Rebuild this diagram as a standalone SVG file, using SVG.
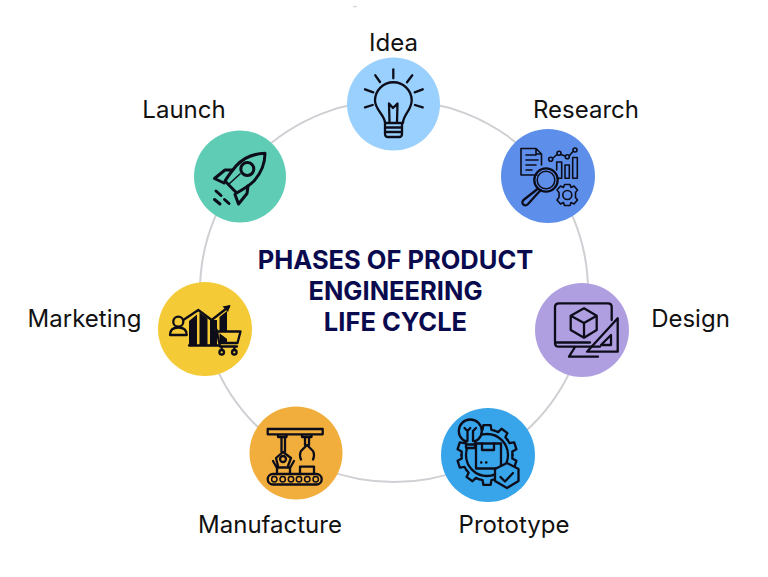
<svg xmlns="http://www.w3.org/2000/svg" width="768" height="577" viewBox="0 0 768 577">
<style>
.lbl{font-family:Inter,"Liberation Sans",sans-serif;font-size:24px;fill:#111;text-anchor:middle}
.ttl{font-family:Inter,"Liberation Sans",sans-serif;font-size:25.500px;font-weight:700;fill:#0a0a4e;text-anchor:middle}
.i{fill:none;stroke:#0d0d1a;stroke-width:2.300;stroke-linecap:round;stroke-linejoin:round}
.s{fill:#0d0d1a}
</style>
<defs><path id="tooth" d="M-7.880-24.250L-4.430-25.110L-3.660-29.780H3.660L4.430-25.110L7.880-24.250"/></defs>
<rect width="768" height="577" fill="#fff"/>
<line x1="353" y1="6.700" x2="357" y2="6.700" stroke="#ccc" stroke-width="1"/>
<g id="connectors"><ellipse cx="394" cy="291" rx="194" ry="191" fill="none" stroke="#cfd0d4" stroke-width="2"/></g>
<g id="title"><text class="ttl" x="395.500" y="268.500">PHASES OF PRODUCT</text><text class="ttl" x="395.500" y="299.500">ENGINEERING</text><text class="ttl" x="395.500" y="330.500">LIFE CYCLE</text></g>
<g id="idea"><circle cx="393.500" cy="104" r="46.500" fill="#99d0fd"/>
<path class="i" d="M393.300 69.300V78.300M375.300 75.300L380 82M412.300 75.300L407 82.300M365 89.300L373.300 92.300M422.700 89.300L414.700 92.300M365 107.300L372.700 105M422.700 107.300L415 105"/>
<path class="i" d="M385 123C385 115 375 110 375 100.600A18.300 18.300 0 0 1 411.700 100.600C411.700 110 403 115 403 123ZM389.500 122L389 103.500L393 108L397.500 103.500L397 122M385 123V134Q385 137 388 137H399Q402 137 402 134V123M385 127.500H402M385 132H402"/>
<text class="lbl" x="393.500" y="51">Idea</text></g>
<g id="research"><circle cx="548" cy="176" r="47" fill="#5d8eea"/>
<path class="i" style="stroke-width:1.600" d="M537 175H521V148.500H536L541.500 154V165M536 148.500V154H541.500M526 155H536M526 160H538M526 165H536M526 170H532"/>
<circle class="i" cx="546" cy="180" r="11.700"/><circle class="i" style="stroke-width:1.500" cx="546" cy="180" r="8.800"/>
<path class="i" d="M538 188.500L535 191L523.500 200Q521 203 524 205Q526 206 528 204L538 193L541 190"/>
<path class="i" style="stroke-width:1.600" d="M556.700 170V162H561.700V178.300H558M565 178.300V165H569.300V178.300ZM572.700 178.300V157.500H577.300V178.300ZM553 158L557 154.500M561 154.500L565 156M569.500 155.500L573 151.500"/>
<g class="i" style="stroke-width:1.600"><circle cx="550.700" cy="159.300" r="2"/><circle cx="559" cy="153.300" r="2"/><circle cx="567.300" cy="156.700" r="2"/><circle cx="575" cy="150" r="2"/><circle cx="567.300" cy="195" r="4.500"/>
<path d="M564.500 184.500H570L571 187.500L574 186L577.500 190L575.500 192.500V197.500L577.500 200L574 204L571 202.500L570 205.500H564.500L563.500 202.500L560.500 204L557 200L559 197.500V192.500L557 190L560.500 186L563.500 187.500Z"/></g>
<text class="lbl" x="586" y="118">Research</text></g>
<g id="design"><circle cx="582" cy="330" r="47" fill="#b09fe0"/>
<path class="i" d="M600 346.700H559Q555 346.700 555 343V307Q555 303.300 559 303.300H608Q611.700 303.300 611.700 307V320M555 342.500H590M575 347L569 356.700H598"/>
<path class="i" d="M584 308.300L596.700 315.700V330L584 337.700L570.700 330V315.700ZM570.700 315.700L584 323L596.700 315.700M584 323V337.700"/>
<path class="i" d="M617.700 318.300V351.700H587ZM611 335V345H601Z"/>
<text class="lbl" x="690.500" y="327">Design</text></g>
<g id="prototype"><circle cx="488" cy="455" r="47" fill="#38a4ea"/>
<g class="i" transform="translate(487 455)"><use href="#tooth"/><use href="#tooth" transform="rotate(36)"/><use href="#tooth" transform="rotate(72)"/><use href="#tooth" transform="rotate(108)"/><use href="#tooth" transform="rotate(144)"/><use href="#tooth" transform="rotate(180)"/><use href="#tooth" transform="rotate(216)"/><use href="#tooth" transform="rotate(252)"/><use href="#tooth" transform="rotate(288)"/><use href="#tooth" transform="rotate(324)"/><circle r="21"/></g>
<circle cx="470.300" cy="431" r="11.500" class="i" style="fill:#38a4ea"/>
<path class="i" style="fill:#38a4ea" d="M466 441V448H475V441"/>
<path class="i" d="M467 444.500H474M467.500 441V431M473 441V431M464.500 428L467.500 431L470.300 428M476 428L473 431"/>
<path class="i" style="fill:#38a4ea" d="M476 443.500H501V468.500H476Z"/>
<path class="i" d="M482 443.500V450H494V443.500M481 462.500H481.500M486 462.500H486.500"/>
<path class="i" style="fill:#38a4ea" d="M507 463L518.500 469V481L507 488L495 481V469Z"/>
<path class="i" d="M500.500 477L505 481.500L513 473"/>
<text class="lbl" x="514" y="533">Prototype</text></g>
<g id="manufacture"><circle cx="296" cy="453" r="46.500" fill="#f1ae3d"/>
<path class="i" d="M267.700 429H322.700V434.300H267.700ZM278 434.300V437H286.500V434.300M302 434.300V437H311.500V434.300"/>
<path class="i" d="M281.500 438V452M285 438V452M305 438V445M309 438V445"/>
<path class="i" d="M307 445L301 451Q299 455 301 459.500M307 445L313 451Q315 455 313 459.500"/>
<path class="i" d="M283 452L276 458L278 466M283 452L291 458L288 466M273 461L277 468M294 461L290 468"/>
<circle class="i" cx="283" cy="459" r="3"/>
<rect class="i" x="267.700" y="474" width="54" height="10.500" rx="5.200"/>
<g class="i" style="stroke-width:1.500"><circle cx="274.300" cy="479.200" r="2.700"/><circle cx="282.700" cy="479.200" r="2.700"/><circle cx="291" cy="479.200" r="2.700"/><circle cx="299" cy="479.200" r="2.700"/><circle cx="307.300" cy="479.200" r="2.700"/><circle cx="315.700" cy="479.200" r="2.700"/></g>
<path class="i" d="M277 474V467.500H290V474M300 474V466.700H314V474"/>
<text class="lbl" x="270" y="533">Manufacture</text></g>
<g id="marketing"><circle cx="205" cy="329" r="47" fill="#f4ca36"/>
<path class="s" d="M189 321L197 314.500V345H189ZM199.500 312.500L207.500 318V345H199.500ZM210 320L217 320V345H210ZM219.500 317L227 311V345H219.500Z"/>
<path class="i" d="M183.300 320L198.300 310L211.700 320L229 306.500M189 345.500H228"/>
<path class="s" d="M230.500 305L222.500 306.500L228 312Z"/>
<circle class="i" cx="178.300" cy="321.700" r="5"/>
<path class="i" d="M170 335H186.700C186.700 330 184 327.500 178.300 327.500C173 327.500 170 330 170 335Z"/>
<path class="i" style="fill:#f4ca36" d="M212 327.500L216.500 329.500L220 346.500H237M217 331.500H240.500L237.500 343H219.500"/>
<circle class="i" cx="221.700" cy="352.300" r="2.300"/><circle class="i" cx="234.300" cy="352.300" r="2.300"/>
<path class="i" d="M221.700 347V350M234.300 347V350"/>
<text class="lbl" x="84.500" y="327">Marketing</text></g>
<g id="launch"><circle cx="240" cy="176.500" r="46" fill="#5fcdb5"/>
<g class="i" style="stroke-width:3"><path d="M265 153.300C256 153.500 245 156 236 166C232 171 228 176 225 181L236.700 193C242 190 249 186 254 181C262 172 265 162 265 153.300Z"/>
<circle cx="247.300" cy="169" r="6.500"/>
<path d="M232 170L225 170L214.500 178.500L224 183"/>
<path d="M248 186L247 193.500L238.500 204L235 194.500"/>
<path d="M216 191L221 195.500M214.500 199.500L220 204M224.500 199.500L229 203.500"/>
<path d="M229 184L240 174" style="stroke-width:1.500"/></g>
<text class="lbl" x="184" y="118">Launch</text></g>
</svg>
